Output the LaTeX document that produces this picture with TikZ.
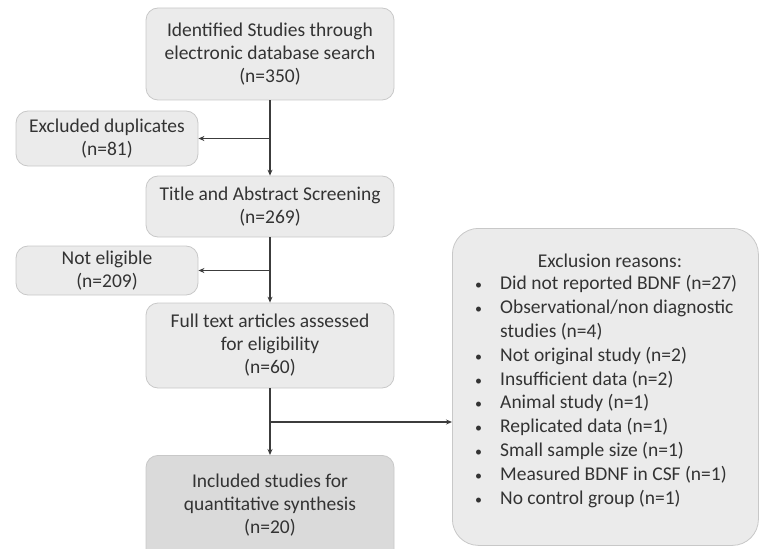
\documentclass[tikz,border=0pt]{standalone}
\usepackage{fontspec}
\setmainfont{Carlito}
\usetikzlibrary{arrows.meta,calc}
\definecolor{boxfill}{HTML}{EBEBEB}
\definecolor{boxdark}{HTML}{DADADA}
\definecolor{boxline}{HTML}{C8C8C8}
\definecolor{txt}{HTML}{333333}
\definecolor{ln}{HTML}{3C3C3C}
\newcommand{\smbul}{{\fontsize{14}{14}\selectfont\textbullet}}
\begin{document}
\begin{tikzpicture}[x=1pt,y=-1pt,
  box/.style={draw=boxline,fill=boxfill,rounded corners=12pt,line width=0.8pt,
    align=center,text=txt,font=\fontsize{19.5}{23}\selectfont,inner sep=0pt},
  lbl/.style={text=txt,font=\fontsize{19.5}{23}\selectfont,align=center,inner sep=0pt},
  arr/.style={draw=ln,line width=1.8pt,-{Stealth[length=6pt,width=5pt]}}]
\useasboundingbox (0,0) rectangle (759,548);
\node[box,minimum width=248pt,minimum height=92pt] (n1) at (270,54)
  {Identified Studies through\\electronic database search\\(n=350)};
\node[box,minimum width=182pt,minimum height=55pt] (dup) at (107,138.5)
  {Excluded duplicates\\(n=81)};
\node[box,minimum width=248pt,minimum height=61pt] (n2) at (270,206.5)
  {Title and Abstract Screening\\(n=269)};
\node[box,minimum width=182pt,minimum height=49pt] (nel) at (107,270.5)
  {Not eligible\\(n=209)};
\node[box,minimum width=248pt,minimum height=85pt] (n3) at (270,345.5)
  {Full text articles assessed\\for eligibility\\(n=60)};
\node[box,fill=boxdark,minimum width=248pt,minimum height=110pt,anchor=north] (n4) at (270,455)
  {};
\node[lbl] (n4t) at (270,505)
  {Included studies for\\quantitative synthesis\\(n=20)};
\node[box,rounded corners=26pt,minimum width=306pt,minimum height=317pt,anchor=north west] (ex) at (452,228) {};
\node[lbl] (ext) at (610,261) {Exclusion reasons:};
\node[text=txt,font=\fontsize{19.5}{23.8}\selectfont,align=left,anchor=north west,inner sep=0pt] (exl) at (475,273)
{\begin{tabular}{@{}p{25pt}@{}l@{}}
\smbul & Did not reported BDNF (n=27)\\
\smbul & Observational/non diagnostic\\
 & studies (n=4)\\
\smbul & Not original study (n=2)\\
\smbul & Insufficient data (n=2)\\
\smbul & Animal study (n=1)\\
\smbul & Replicated data (n=1)\\
\smbul & Small sample size (n=1)\\
\smbul & Measured BDNF in CSF (n=1)\\
\smbul & No control group (n=1)
\end{tabular}};
\draw[arr] (n1.south) -- (n2.north);
\draw[arr] (n1.south |- dup.east) -- (dup.east);
\draw[arr] (n2.south) -- (n3.north);
\draw[arr] (n2.south |- nel.east) -- (nel.east);
\draw[arr] (n3.south) -- (n4.north);
\coordinate (br) at (270,422);
\draw[arr] (br) -- (br -| ex.west);
\end{tikzpicture}
\end{document}
